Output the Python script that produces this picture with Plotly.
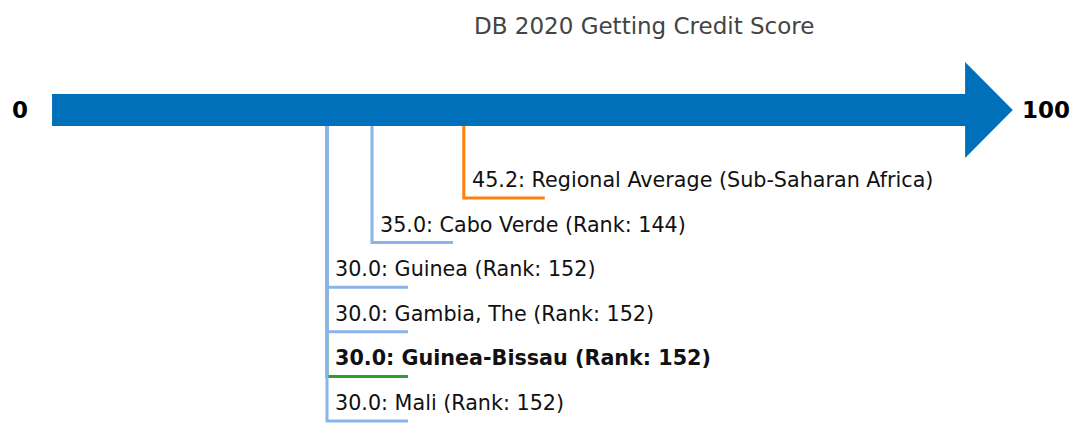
"""
DB 2020 Getting Credit Score - arrow scale with economy markers
"""

import plotly.graph_objects as go

# Data
names = ["Regional Average (Sub-Saharan Africa)", "Cabo Verde", "Guinea",
         "Gambia, The", "Guinea-Bissau", "Mali"]
scores = [45.2, 35.0, 30.0, 30.0, 30.0, 30.0]
ranks = [None, 144, 152, 152, 152, 152]
kinds = ["region", "peer", "peer", "peer", "focus", "peer"]
scale_min, scale_max = 0, 100
title = "DB 2020 Getting Credit Score"

# Styling (pixel layout of the page)
W, H = 1072, 424
PX_PER_UNIT = 9.0
X0_PX = 57
colors = {"region": "#ff7f0e", "peer": "#8ab4ea", "focus": "#2ca02c"}
ARROW_BLUE = "#0070bb"
FONT = "DejaVu Sans"
LABEL_SIZE = 20.7

bar_top, bar_bot = 94, 126
head_top, head_bot = 62, 158
row0, row_gap = 198, 44.6
tick_len = 9.0

fig = go.Figure()

# arrow
y_mid = (bar_top + bar_bot) / 2
x_start = scale_min - 0.55
x_shaft = scale_max + 0.9
x_tip = scale_max + 6.2
fig.add_trace(go.Scatter(
    x=[x_start, x_shaft, x_shaft, x_tip, x_shaft, x_shaft, x_start, x_start],
    y=[bar_top, bar_top, head_top, y_mid, head_bot, bar_bot, bar_bot, bar_top],
    fill="toself", fillcolor=ARROW_BLUE, mode="lines",
    line=dict(width=0, color=ARROW_BLUE), hoverinfo="skip"))

# draw highlighted row first so peers overlap it like the original
order = sorted(range(len(names)), key=lambda i: 0 if kinds[i] == "focus" else 1)
for i in order:
    s = scores[i]
    y_line = row0 + row_gap * i
    fig.add_trace(go.Scatter(
        x=[s, s, s + tick_len], y=[bar_bot, y_line, y_line],
        mode="lines", line=dict(color=colors[kinds[i]], width=3),
        hoverinfo="skip"))

annotations = []
for i in range(len(names)):
    s = scores[i]
    y_line = row0 + row_gap * i
    label = f"{s:.1f}: {names[i]}"
    if ranks[i] is not None:
        label += f" (Rank: {ranks[i]})"
    if kinds[i] == "focus":
        label = f"<b>{label}</b>"
    annotations.append(dict(
        x=s + 0.7, y=y_line - 18, text=label, showarrow=False,
        xanchor="left", yanchor="middle",
        font=dict(family=FONT, size=LABEL_SIZE, color="#111111")))

annotations.append(dict(x=scale_min - 4.1, y=y_mid, text=f"<b>{scale_min}</b>",
                        showarrow=False, xanchor="center", yanchor="middle",
                        font=dict(family=FONT, size=23, color="#000000")))
annotations.append(dict(x=scale_max + 9.9, y=y_mid, text=f"<b>{scale_max}</b>",
                        showarrow=False, xanchor="center", yanchor="middle",
                        font=dict(family=FONT, size=23, color="#000000")))
annotations.append(dict(x=(644 - X0_PX) / PX_PER_UNIT, y=26, text=title,
                        showarrow=False, xanchor="center", yanchor="middle",
                        font=dict(family=FONT, size=23, color="#444444")))

fig.update_layout(
    width=W, height=H,
    margin=dict(l=0, r=0, t=0, b=0),
    showlegend=False,
    plot_bgcolor="white",
    paper_bgcolor="white",
    xaxis=dict(range=[-X0_PX / PX_PER_UNIT, (W - X0_PX) / PX_PER_UNIT],
               visible=False, fixedrange=True),
    yaxis=dict(range=[H, 0], visible=False, fixedrange=True),
    annotations=annotations,
)

# drop the default page margin so the figure fills the window
fig.write_html("out.html",
               config={"displayModeBar": False},
               post_script="document.body.style.margin='0';"
                           "document.body.style.overflow='hidden';")
